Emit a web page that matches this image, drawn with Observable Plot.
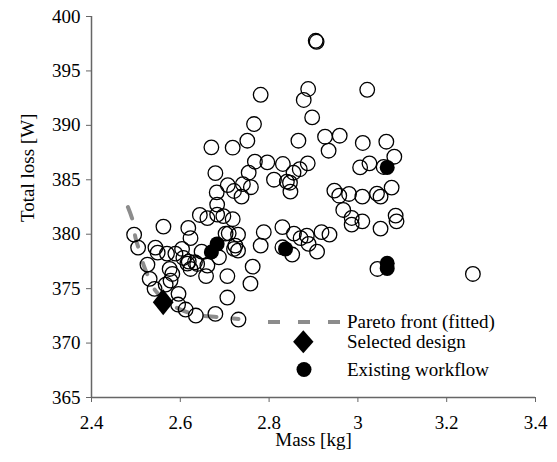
<!DOCTYPE html>
<html><head><meta charset="utf-8">
<script src="https://cdn.jsdelivr.net/npm/d3@7"></script>
<script src="https://cdn.jsdelivr.net/npm/@observablehq/plot@0.6"></script>
<style>
body{margin:0;background:#fff;}
#wrap{position:relative;width:557px;height:462px;font-family:"Liberation Serif","Times New Roman","DejaVu Serif",serif;}
#wrap svg text{font-family:"Liberation Serif","Times New Roman","DejaVu Serif",serif;}
#legend{position:absolute;left:0;top:0;}
</style></head><body><div id="wrap"></div>
<script>
// ---- data ----
const openMass = [2.905,2.907,2.888,2.878,2.781,2.897,2.766,2.751,2.670,2.718,2.866,2.926,2.934,2.768,2.796,2.831,2.887,2.869,2.855,2.679,2.754,2.811,2.840,2.847,2.848,2.707,2.741,2.759,2.682,2.721,2.738,2.683,2.683,2.661,2.697,2.718,2.644,2.562,2.618,2.496,2.505,2.623,3.021,2.959,3.011,3.064,3.082,3.005,3.026,3.058,2.947,2.958,2.980,3.010,3.043,3.051,3.076,2.967,2.986,2.986,3.010,3.085,3.087,3.051,2.918,3.044,3.259,2.788,2.830,2.856,2.871,2.885,2.889,2.908,2.936,2.781,2.830,2.852,2.763,2.758,2.702,2.730,2.709,2.724,2.730,2.721,2.648,2.687,2.661,2.658,2.706,2.706,2.679,2.731,2.544,2.549,2.570,2.589,2.604,2.607,2.616,2.633,2.638,2.526,2.576,2.623,2.531,2.567,2.578,2.542,2.596,2.595,2.612,2.635,2.619,2.582];
const openLoss = [397.77,397.68,393.34,392.33,392.81,390.73,390.12,388.59,387.98,387.95,388.59,388.96,387.67,386.66,386.60,386.45,386.51,385.97,385.65,385.61,385.65,385.01,384.83,384.73,383.91,384.51,384.60,384.32,383.84,383.97,383.45,382.72,381.80,381.48,381.66,381.38,381.77,380.70,380.58,379.96,378.77,379.64,393.27,389.05,388.38,388.50,387.12,386.14,386.51,386.18,384.00,383.54,383.70,383.45,383.73,383.45,384.28,382.23,381.49,380.88,381.18,381.71,381.18,380.51,380.19,376.81,376.35,380.19,380.65,380.05,379.64,379.87,379.11,378.40,379.96,378.95,378.80,378.13,377.02,375.46,380.05,379.96,380.08,378.95,378.49,378.65,378.40,377.88,377.12,376.15,376.15,374.18,372.68,372.16,378.77,378.31,378.22,378.22,378.65,377.82,377.30,377.42,377.27,377.21,376.81,376.81,375.90,375.37,375.74,374.98,374.52,373.54,373.08,372.53,377.48,376.35];
const existingMass = [2.683,2.670,2.837,3.066,3.066,3.066];
const existingLoss = [379.11,378.36,378.65,386.14,377.33,376.85];
const selectedMass = [2.5615];
const selectedLoss = [373.75];
const paretoMass = [2.482,2.4935,2.499,2.507,2.517,2.526,2.544,2.567,2.6005,2.634,2.684,2.731];
const paretoLoss = [382.49,381.15,379.69,378.58,377.21,376.29,374.82,373.90,373.08,372.62,372.39,372.21];
const xTicks = [2.4,2.6,2.8,3,3.2,3.4];
const yTicks = [365,370,375,380,385,390,395,400];
const xLabel = "Mass [kg]";
const yLabel = "Total loss [W]";
const legendLabels = ["Pareto front (fitted)","Selected design","Existing workflow"];

// ---- tables ----
const open = openMass.map((m,i)=>({mass:m, loss:openLoss[i]}));
const existing = existingMass.map((m,i)=>({mass:m, loss:existingLoss[i]}));
const selected = selectedMass.map((m,i)=>({mass:m, loss:selectedLoss[i]}));
const pareto = paretoMass.map((m,i)=>({mass:m, loss:paretoLoss[i]}));

const rhombus = {draw(ctx, size){ const r = Math.sqrt(size/Math.PI); const w = r*0.8; ctx.moveTo(0,-r); ctx.lineTo(w,0); ctx.lineTo(0,r); ctx.lineTo(-w,0); ctx.closePath(); }};

const FONT = '"Liberation Serif", "Times New Roman", "DejaVu Serif", serif';
const FS = 19;
const chart = Plot.plot({
  width:557, height:462, marginLeft:91, marginRight:22, marginTop:16, marginBottom:65,
  style:{fontFamily:FONT, fontSize:FS+"px", color:"black", background:"white"},
  x:{domain:[2.4,3.4]}, y:{domain:[365,400]},
  marks:[
    Plot.axisX({ticks:xTicks, tickFormat:d=>String(d), tickSize:5, tickPadding:13, stroke:"#666", fill:"black", fontSize:FS, label:null}),
    Plot.axisY({ticks:yTicks, tickSize:5, tickPadding:6, stroke:"#666", fill:"black", fontSize:FS, label:null}),
    Plot.ruleY([365],{stroke:"#666", strokeWidth:1.5}),
    Plot.ruleX([2.4],{stroke:"#666", strokeWidth:1.5}),
    Plot.line(pareto,{x:"mass", y:"loss", stroke:"#8c8c8c", strokeWidth:4, strokeDasharray:"12,17", curve:"catmull-rom"}),
    Plot.dot(open,{x:"mass", y:"loss", r:7.3, stroke:"black", strokeWidth:1.3, fill:"none"}),
    Plot.dot(existing,{x:"mass", y:"loss", r:7.5, fill:"black", stroke:"none"}),
    Plot.dot(selected,{x:"mass", y:"loss", r:13, symbol:rhombus, fill:"black", stroke:"none"}),
    Plot.text([xLabel],{text:d=>d, frameAnchor:"bottom", dy:48, fontSize:FS, fill:"black"}),
    Plot.text([yLabel],{text:d=>d, frameAnchor:"left", dx:-64, dy:15, rotate:-90, fontSize:FS, fill:"black"})
  ]
});
const wrap = document.getElementById("wrap");
wrap.appendChild(chart);

// ---- legend overlay ----
const lg = d3.select(wrap).append("svg").attr("id","legend").attr("width",557).attr("height",462)
  .style("font-family",FONT).style("font-size",FS+"px");
lg.append("line").attr("x1",268).attr("x2",340).attr("y1",322).attr("y2",322)
  .attr("stroke","#8c8c8c").attr("stroke-width",4).attr("stroke-dasharray","12,18");
lg.append("path").attr("d","M303.3,330.2L313.5,341.7L303.3,353.2L293.1,341.7Z").attr("fill","black");
lg.append("circle").attr("cx",304).attr("cy",369.5).attr("r",7.5).attr("fill","black");
const ys = [321,341,369];
legendLabels.forEach((t,i)=>{
  lg.append("text").attr("x",347).attr("y",ys[i]).attr("dy","0.35em").attr("fill","black").text(t);
});
</script></body></html>
